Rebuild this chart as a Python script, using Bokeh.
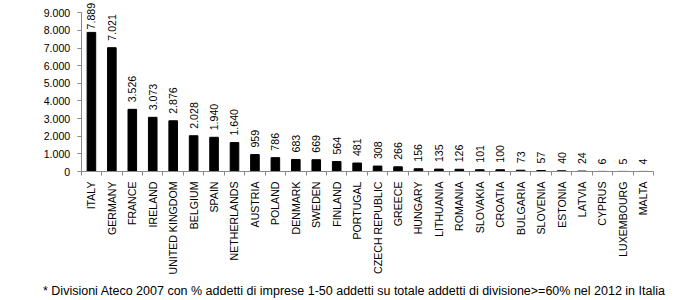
import numpy as np
from bokeh.plotting import figure
from bokeh.models import ColumnDataSource, FixedTicker, Label, Range1d
from bokeh.core.properties import value
from bokeh.embed import file_html
from bokeh.resources import INLINE

countries = ["ITALY", "GERMANY", "FRANCE", "IRELAND", "UNITED KINGDOM", "BELGIUM",
             "SPAIN", "NETHERLANDS", "AUSTRIA", "POLAND", "DENMARK", "SWEDEN",
             "FINLAND", "PORTUGAL", "CZECH REPUBLIC", "GREECE", "HUNGARY",
             "LITHUANIA", "ROMANIA", "SLOVAKIA", "CROATIA", "BULGARIA", "SLOVENIA",
             "ESTONIA", "LATVIA", "CYPRUS", "LUXEMBOURG", "MALTA"]
values = [7889, 7021, 3526, 3073, 2876, 2028, 1940, 1640, 959, 786, 683, 669,
          564, 481, 308, 266, 156, 135, 126, 101, 100, 73, 57, 40, 24, 6, 5, 4]
y_ticks = [0, 1000, 2000, 3000, 4000, 5000, 6000, 7000, 8000, 9000]
y_tick_labels = ["0", "1.000", "2.000", "3.000", "4.000", "5.000", "6.000",
                 "7.000", "8.000", "9.000"]
footnote = ("* Divisioni Ateco 2007 con % addetti di imprese 1-50 addetti su totale "
            "addetti di divisione>=60% nel 2012 in Italia")

FONT = "Liberation Sans"
n = len(countries)
xc = np.arange(n) + 0.5

# canvas geometry (pixels)
W, H = 700, 300
x0_px, x1_px = 80.7, 653.0      # x axis extent
y0_px, y9_px = 171.0, 12.3      # y=0 and y=9000 positions from top
sx = (x1_px - x0_px) / n
sy = (y0_px - y9_px) / 9000

src = ColumnDataSource(dict(
    x=xc,
    top=values,
    lbl=[f"{v:,}".replace(",", ".") for v in values],
    yoff=[-3 if v > 7500 else -7 for v in values],
))

p = figure(width=W, height=H, output_backend="svg", toolbar_location=None,
           x_range=Range1d(-x0_px / sx, n + (W - x1_px) / sx),
           y_range=Range1d(-(H - y0_px) / sy, y0_px / sy),
           min_border_left=0, min_border_right=0, min_border_top=0,
           min_border_bottom=0)
p.outline_line_color = None
p.xgrid.grid_line_color = None
p.ygrid.grid_line_color = None
p.background_fill_color = "white"
p.border_fill_color = "white"

p.vbar(x="x", top="top", bottom=0, width=0.42, source=src,
       fill_color="black", line_color="black")

p.text(x="x", y="top", text="lbl", source=src, angle=np.pi / 2,
       y_offset="yoff", text_align="left", text_baseline="middle",
       text_font=value(FONT), text_font_size="10.6px", text_color="black")

# y axis
ya = p.yaxis[0]
ya.fixed_location = 0
ya.ticker = FixedTicker(ticks=y_ticks)
ya.major_label_overrides = {t: l for t, l in zip(y_ticks, y_tick_labels)}
ya.bounds = (0, 9000)
ya.axis_line_color = "#888888"
ya.major_tick_line_color = "#888888"
ya.major_tick_out = 4
ya.major_tick_in = 0
ya.minor_tick_line_color = None
ya.major_label_text_font = FONT
ya.major_label_text_font_size = "10.6px"
ya.major_label_text_color = "black"
ya.major_label_standoff = 7

# x axis
xa = p.xaxis[0]
xa.fixed_location = 0
xa.ticker = FixedTicker(ticks=list(xc), minor_ticks=list(range(n + 1)))
xa.major_label_overrides = {float(t): c for t, c in zip(xc, countries)}
xa.major_label_orientation = np.pi / 2
xa.bounds = (0, n)
xa.axis_line_color = "#888888"
xa.major_tick_line_color = None
xa.major_tick_out = 0
xa.major_tick_in = 0
xa.minor_tick_line_color = "#888888"
xa.minor_tick_out = 4
xa.minor_tick_in = 0
xa.major_label_text_font = FONT
xa.major_label_text_font_size = "10.6px"
xa.major_label_text_color = "black"
xa.major_label_standoff = 6

p.add_layout(Label(x=-(x0_px - 42.5) / sx, y=-(290 - y0_px) / sy,
                   text=footnote, text_font=FONT, text_font_size="12.5px",
                   text_color="black", text_baseline="alphabetic",
                   text_align="left"))

open("out.html", "w").write(file_html(p, INLINE))
